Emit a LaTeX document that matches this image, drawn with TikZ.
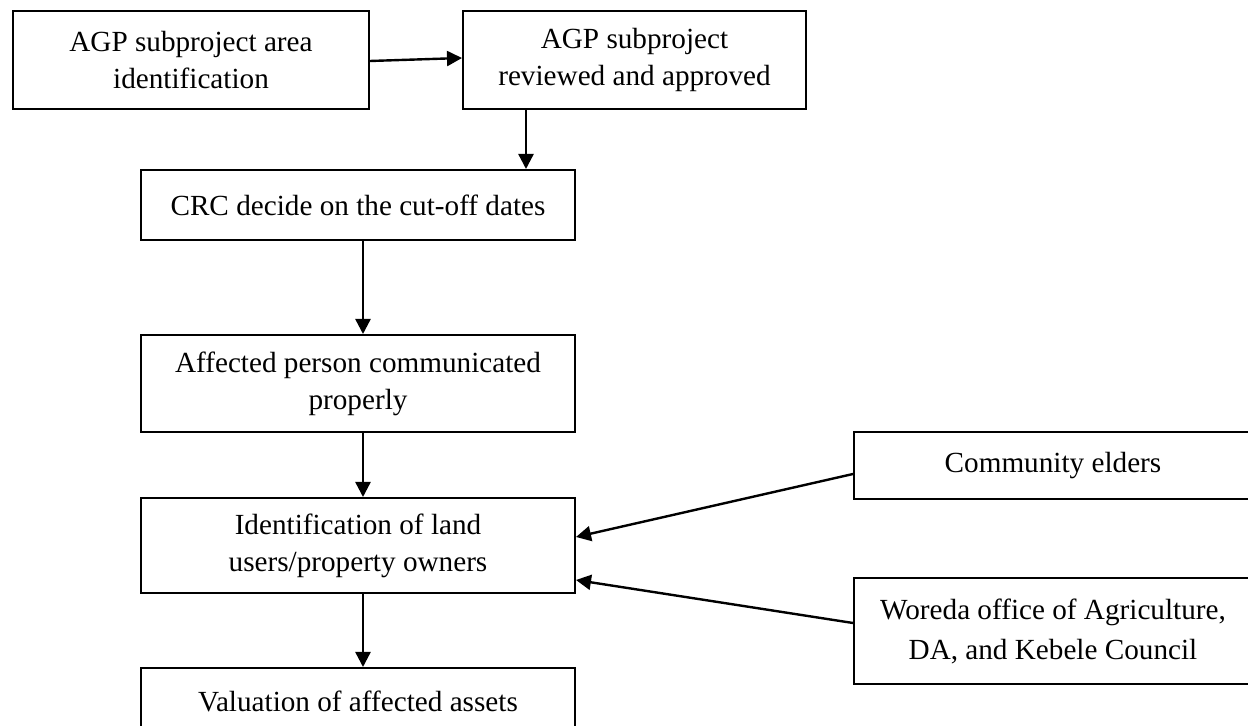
\documentclass[tikz,border=0pt]{standalone}
\usepackage{fontspec}
\setmainfont{Liberation Serif}
\usetikzlibrary{arrows.meta,calc}
\begin{document}
\begin{tikzpicture}[x=0.5pt,y=-0.5pt,
  box/.style={draw,line width=1pt,rectangle,inner sep=2pt,align=center,
    font=\fontsize{14.6}{18.5}\selectfont},
  arr/.style={line width=1.2pt,-{Triangle[length=7.5pt,width=7.5pt]}}]
\useasboundingbox (0,0) rectangle (1248,726);
\clip (0,0) rectangle (1248,726);
\node[box,minimum width=178pt,minimum height=49pt] (b1) at (191,60) {AGP subproject area\\identification};
\node[box,minimum width=171.5pt,minimum height=49pt] (b2) at (634.5,60) {AGP subproject\\reviewed and approved};
\node[box,minimum width=217pt,minimum height=35pt] (crc) at (358,205) {CRC decide on the cut-off dates};
\node[box,minimum width=217pt,minimum height=48.5pt] (aff) at (358,383.5) {Affected person communicated\\properly};
\node[box,minimum width=217pt,minimum height=47.5pt] (idn) at (358,545.5) {Identification of land\\users/property owners};
\node[box,minimum width=217pt,minimum height=33pt] (val) at (358,701) {Valuation of affected assets};
\node[box,minimum width=199pt,minimum height=33.5pt] (com) at (1053,465.5) {Community elders};
\node[box,minimum width=199pt,minimum height=53pt,font=\fontsize{14.6}{20}\selectfont] (wor) at (1053,631) {Woreda office of Agriculture,\\DA, and Kebele Council};
\draw[arr] ($(b1.east)+(0,1)$) -- ($(b2.west)+(0,-2)$);
\draw[arr] ($(b2.south west)+(64,0)$) coordinate (t1) -- (t1 |- crc.north);
\draw[arr] ($(crc.south)+(5,0)$) coordinate (t2) -- (t2 |- aff.north);
\draw[arr] ($(aff.south)+(5,0)$) coordinate (t3) -- (t3 |- idn.north);
\draw[arr] ($(idn.south)+(5,0)$) coordinate (t4) -- (t4 |- val.north);
\draw[arr] ($(com.west)+(0,8.5)$) -- ($(idn.east)+(0,-8.5)$);
\draw[arr] ($(wor.west)+(0,-8)$) -- ($(idn.east)+(0,34.5)$);
\end{tikzpicture}
\end{document}
